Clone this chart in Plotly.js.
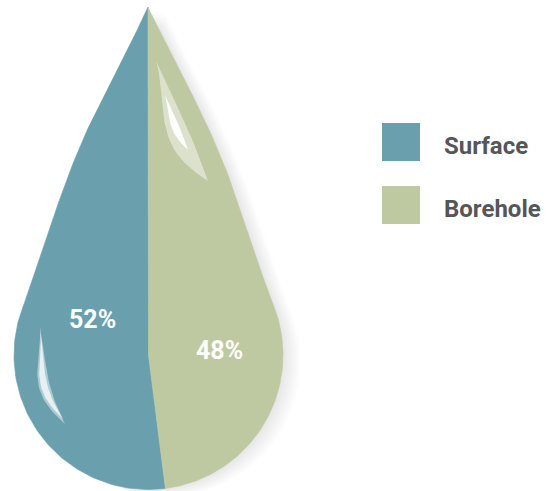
<!DOCTYPE html>
<html>
<head>
<meta charset="utf-8">
<script src="https://cdn.plot.ly/plotly-3.0.1.min.js"></script>
<style>html,body{margin:0;padding:0;background:#fff;}#chart{width:548px;height:491px;}</style>
</head>
<body>
<div id="chart"></div>
<script>
// ---- data ----
const categories = ['Surface', 'Borehole'];
const shares = [52, 48];
const colors = ['#6aa0ad', '#bfc9a1'];
const labels = shares.map(v => v + '%');

// ---- drop geometry (style constants) ----
const TIP = [148, 7];
const C = [148.5, 355];
const R = 134.5;
const SIDE_BULGE = 9;

function sidePts(p0, p1, k, n, a, outwardSign, pw) {
  const ux = p1[0] - p0[0], uy = p1[1] - p0[1];
  const L = Math.hypot(ux, uy);
  let nx = -uy / L, ny = ux / L;
  if (outwardSign !== undefined && outwardSign !== 0 && Math.sign(nx) !== outwardSign) { nx = -nx; ny = -ny; }
  const pts = [];
  for (let i = 0; i <= n; i++) {
    const s = i / n;
    const b = k * Math.pow(Math.sin(Math.PI * Math.pow(s, a || 1)), pw || 1);
    pts.push([p0[0] + ux * s + nx * b, p0[1] + uy * s + ny * b]);
  }
  return pts;
}
function pt(th) { return [C[0] + R * Math.sin(th), C[1] - R * Math.cos(th)]; }
function arcPts(a0, a1, n) {
  const pts = [];
  for (let i = 0; i <= n; i++) pts.push(pt(a0 + (a1 - a0) * i / n));
  return pts;
}

const vx = TIP[0] - C[0], vy = TIP[1] - C[1];
const d = Math.hypot(vx, vy);
const thTip = Math.atan2(vx, -vy);
const half = Math.acos(R / d);
const thL = thTip - half, thR = thTip + half;
const TL = pt(thL), TR = pt(thR);

const total = shares.reduce((a, b) => a + b, 0);
const thSplit = -2 * Math.PI * shares[0] / total;   // pie-style split, counter-clockwise from top

const leftSide = sidePts(TIP, TL, SIDE_BULGE, 60, 1, -1, 1.5);
const rightSide = sidePts(TIP, TR, SIDE_BULGE, 60, 1, 1, 1.5);

const leftPoly = [].concat(leftSide, arcPts(thL, thSplit, 90), [C, TIP]);
const rightPoly = [].concat([TIP, C], arcPts(thSplit, thR - 2 * Math.PI, 90), rightSide.slice().reverse());
const outline = [].concat(leftSide, arcPts(thL, thR - 2 * Math.PI, 160), rightSide.slice().reverse());

function xs(p) { return p.map(q => q[0]); }
function ys(p) { return p.map(q => q[1]); }

function crescent(p0, p1, kA, kB, a) {
  const A = sidePts(p0, p1, kA, 30, a);
  const B = sidePts(p0, p1, kB, 30, a);
  return A.concat(B.reverse());
}

const traces = [];
// soft shadow
for (let i = 1; i <= 12; i++) {
  const dx = i * 1.5, dy = i * 0.6;
  const p = outline.map(q => [q[0] + dx, q[1] + dy]);
  traces.push({x: xs(p), y: ys(p), mode: 'lines', fill: 'toself', fillcolor: 'rgba(0,0,0,0.009)',
    line: {width: 0, color: 'rgba(0,0,0,0)'}, hoverinfo: 'skip', showlegend: false});
}
// halves
[leftPoly, rightPoly].forEach((p, i) => {
  traces.push({x: xs(p), y: ys(p), name: categories[i], mode: 'lines', fill: 'toself',
    fillcolor: colors[i], line: {width: 0.6, color: colors[i]}, hoverinfo: 'name', showlegend: false});
});
// highlights
const hl = [
  {p: crescent([156, 61], [208, 181], 19, -2, 1.4), c: 'rgba(255,255,255,0.45)'},
  {p: crescent([165, 95], [188, 150], 6.5, -1, 1.3), c: 'rgba(255,255,255,0.95)'},
  {p: crescent([40, 327], [65, 424], 16, 5, 1.3), c: 'rgba(255,255,255,0.45)'},
  {p: crescent([40.5, 333], [63, 419], 13, 6.5, 1.3), c: 'rgba(255,255,255,0.7)'}
];
hl.forEach(h => traces.push({x: xs(h.p), y: ys(h.p), mode: 'lines', fill: 'toself', fillcolor: h.c,
  line: {width: 0, color: 'rgba(0,0,0,0)'}, hoverinfo: 'skip', showlegend: false}));

// legend squares
const LEG_X = 401, LEG_Y0 = 142, LEG_DY = 63;
categories.forEach((c, i) => {
  traces.push({x: [LEG_X], y: [LEG_Y0 + i * LEG_DY], mode: 'markers', name: c, hoverinfo: 'name',
    marker: {symbol: 'square', size: 38, color: colors[i], line: {width: 0}}, showlegend: false});
});

const annotations = [];
categories.forEach((c, i) => {
  annotations.push({x: 442, y: LEG_Y0 + i * LEG_DY + 4, xref: 'x', yref: 'y', text: c, showarrow: false,
    xanchor: 'left', yanchor: 'middle', font: {family: 'Roboto', size: 24, weight: 700, color: '#555658'}});
});
const labelOffsets = [[-56, -36], [70.5, -5]];
labels.forEach((t, i) => {
  annotations.push({x: C[0] + labelOffsets[i][0], y: C[1] + labelOffsets[i][1], xref: 'x', yref: 'y',
    text: t, showarrow: false, xanchor: 'center', yanchor: 'middle',
    font: {family: 'Roboto', size: 25, weight: 700, color: '#ffffff'}});
});

const layout = {
  width: 548, height: 491, autosize: false,
  margin: {l: 0, r: 0, t: 0, b: 0, pad: 0},
  paper_bgcolor: '#ffffff', plot_bgcolor: '#ffffff',
  xaxis: {range: [0, 548], visible: false, fixedrange: true},
  yaxis: {range: [491, 0], visible: false, fixedrange: true},
  showlegend: false,
  annotations: annotations
};
Plotly.newPlot('chart', traces, layout, {displayModeBar: false, staticPlot: true});
</script>
</body>
</html>
